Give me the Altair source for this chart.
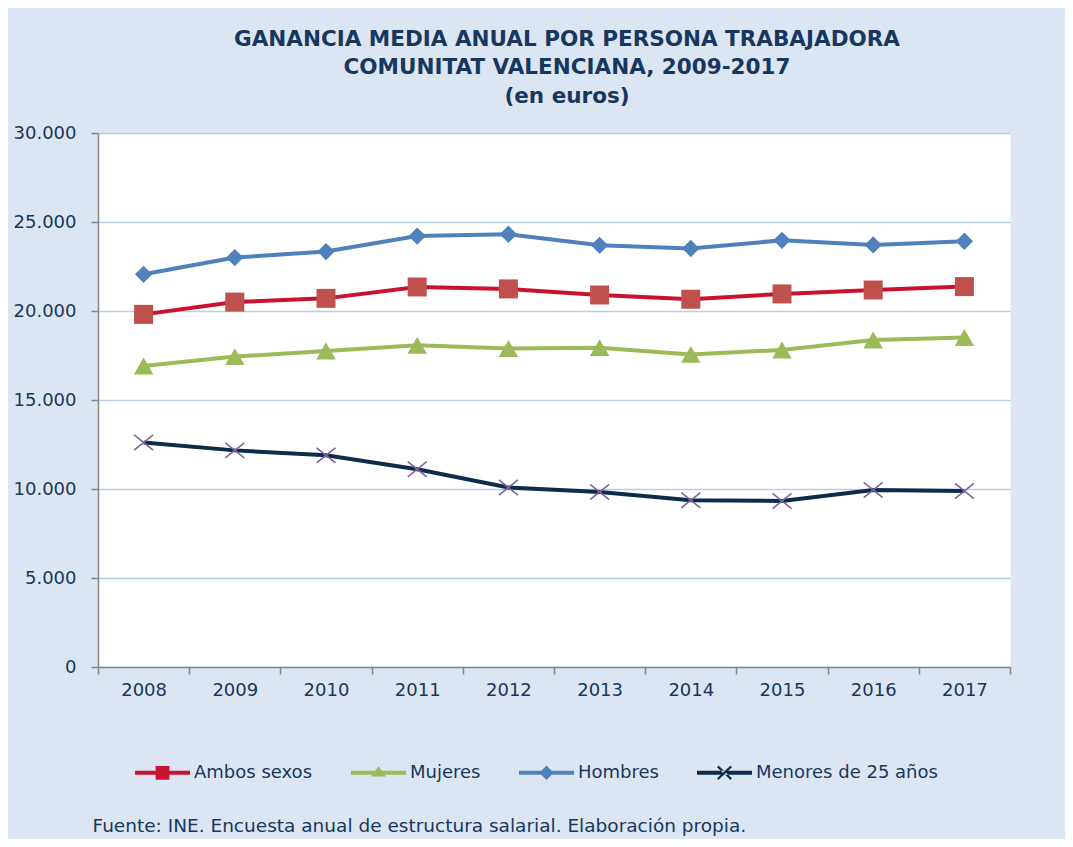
import altair as alt
import pandas as pd

years = ["2008", "2009", "2010", "2011", "2012", "2013", "2014", "2015", "2016", "2017"]
series = ["Ambos sexos", "Mujeres", "Hombres", "Menores de 25 años"]
ambos = [19810, 20500, 20710, 21350, 21240, 20900, 20660, 20960, 21180, 21370]
mujeres = [16910, 17440, 17750, 18070, 17890, 17940, 17560, 17810, 18370, 18510]
hombres = [22060, 23000, 23340, 24210, 24310, 23690, 23510, 23970, 23710, 23920]
menores = [12610, 12170, 11890, 11110, 10080, 9830, 9370, 9330, 9940, 9890]
y_ticks = [0, 5000, 10000, 15000, 20000, 25000, 30000]

line_colors = ["#c9122f", "#9bbb59", "#4f81bd", "#0d2b4a"]
marker_colors = ["#c0504d", "#9bbb59", "#4f81bd", "#8064a2"]
marker_shapes = ["square", "triangle-up", "diamond", "M-1,-0.8L1,0.8M-1,0.8L1,-0.8"]
marker_sizes = [361, 380, 300, 361]

legend_paths = [
    "M-1,-0.073H1V0.073H-1Z M-0.25,-0.25H0.25V0.25H-0.25Z",
    "M-1,-0.073H1V0.073H-1Z M0,-0.24L0.28,0.14L-0.28,0.14Z",
    "M-1,-0.073H1V0.073H-1Z M0,-0.26L0.26,0L0,0.26L-0.26,0Z",
    "M-1,-0.073H1V0.073H-1Z M-0.22,-0.26L-0.27,-0.2L0.22,0.26L0.27,0.2Z M0.22,-0.26L0.27,-0.2L-0.22,0.26L-0.27,0.2Z",
]

rows = []
for name, vals in zip(series, [ambos, mujeres, hombres, menores]):
    for yr, v in zip(years, vals):
        rows.append({"year": yr, "series": name, "value": v})
df = pd.DataFrame(rows)

FONT = "DejaVu Sans"
TXT = "#17375e"
GRAY = "#868686"

x_enc = alt.X(
    "year:O",
    sort=years,
    bandPosition=0.5,
    scale=alt.Scale(type="band", paddingInner=0, paddingOuter=0),
    axis=alt.Axis(
        title="Fuente: INE. Encuesta anual de estructura salarial. Elaboración propia.",
        titleX=-6,
        titleY=164,
        titleAlign="left",
        titleAnchor="start",
        titleBaseline="alphabetic",
        titleFont=FONT,
        titleFontSize=18.5,
        titleFontWeight="normal",
        titleColor=TXT,
        labelAngle=0,
        labelFont=FONT,
        labelFontSize=18,
        labelColor=TXT,
        labelPadding=7,
        tickSize=7,
        tickColor=GRAY,
        tickWidth=1.5,
        tickBand="extent",
        domainColor=GRAY,
        domainWidth=1.5,
        grid=False,
    ),
)
y_enc = alt.Y(
    "value:Q",
    scale=alt.Scale(domain=[0, 30000], nice=False, zero=True),
    axis=alt.Axis(
        title=None,
        values=y_ticks,
        labelExpr="replace(format(datum.value, ','), ',', '.')",
        labelFont=FONT,
        labelFontSize=18,
        labelColor=TXT,
        labelPadding=15,
        tickSize=7,
        tickColor=GRAY,
        tickWidth=1.5,
        domainColor=GRAY,
        domainWidth=1.5,
        grid=True,
        gridColor="#b9cde5",
        gridWidth=1.5,
    ),
)

base = alt.Chart(df)

leg = alt.Legend(
    title=None,
    orient="none",
    legendX=37,
    legendY=612,
    direction="horizontal",
    columnPadding=38,
    labelFont=FONT,
    labelFontSize=18,
    labelColor=TXT,
    labelOffset=4,
    labelLimit=400,
    symbolSize=3025,
    symbolStrokeWidth=0,
)

legend_layer = base.mark_point(filled=True, opacity=1, size=0).encode(
    x=x_enc,
    y=y_enc,
    color=alt.Color("series:N", scale=alt.Scale(domain=series, range=line_colors), legend=leg),
    shape=alt.Shape("series:N", scale=alt.Scale(domain=series, range=legend_paths), legend=leg),
)

lines = base.mark_line(strokeWidth=4).encode(
    x=x_enc,
    y=y_enc,
    detail="series:N",
    stroke=alt.Stroke("series:N", scale=alt.Scale(domain=series, range=line_colors), legend=None),
)

layers = [legend_layer, lines]
for name, col, shp, sz in zip(series, marker_colors, marker_shapes, marker_sizes):
    if shp.startswith("M"):
        mk = base.mark_point(shape=shp, size=sz, filled=False, color=col, strokeWidth=1.6, opacity=1)
    else:
        mk = base.mark_point(shape=shp, size=sz, filled=True, color=col, opacity=1)
    layers.append(
        mk.encode(x=x_enc, y=y_enc).transform_filter(alt.datum.series == name)
    )

chart = alt.layer(*layers).properties(
    width=912,
    height=534,
    background="#dce6f2",
    padding={"left": 90, "top": 125, "right": 55, "bottom": 172},
    autosize=alt.AutoSizeParams(type="none"),
    title=alt.TitleParams(
        text=[
            "GANANCIA MEDIA ANUAL POR PERSONA TRABAJADORA",
            "COMUNITAT VALENCIANA, 2009-2017",
            "(en euros)",
        ],
        font=FONT,
        fontSize=21.5,
        fontWeight="bold",
        color=TXT,
        anchor="middle",
        dx=13,
        offset=17,
        lineHeight=28.5,
    ),
).configure_view(fill="white", stroke="transparent")

chart.save("out.html", embed_options={"renderer": "svg", "actions": False})
